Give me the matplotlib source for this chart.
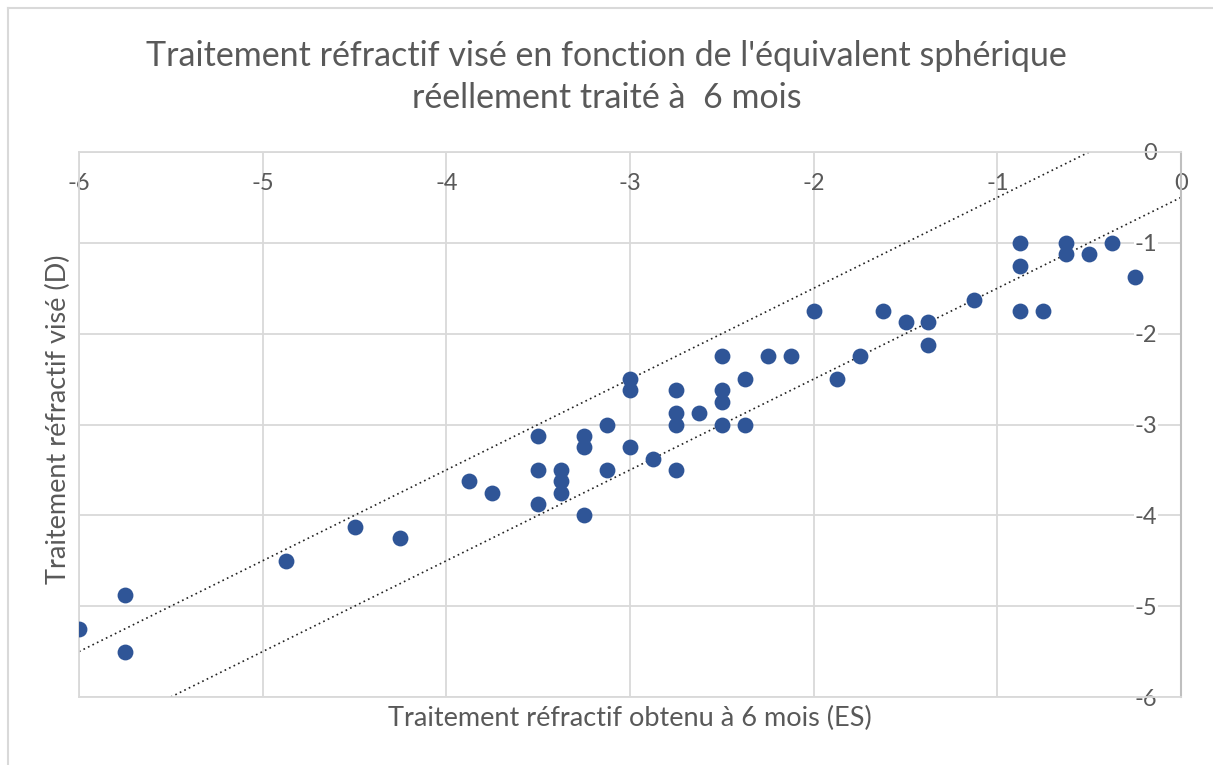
import matplotlib.pyplot as plt
from matplotlib.lines import Line2D

# refraction obtained at 6 months (ES) vs targeted treatment (D)
x_obtenu = [-6, -5.75, -5.75, -4.875, -4.5, -4.25, -3.875, -3.75,
            -3.5, -3.5, -3.5, -3.375, -3.375, -3.375, -3.25, -3.25, -3.25,
            -3.125, -3.125, -3, -3, -3, -2.875, -2.75, -2.75, -2.75, -2.75,
            -2.625, -2.5, -2.5, -2.5, -2.5, -2.375, -2.375, -2.25, -2.125,
            -2, -1.875, -1.75, -1.625, -1.5, -1.375, -1.375, -1.125,
            -0.875, -0.875, -0.875, -0.75, -0.625, -0.625, -0.5, -0.375, -0.25]
y_vise = [-5.25, -4.875, -5.5, -4.5, -4.125, -4.25, -3.625, -3.75,
          -3.125, -3.5, -3.875, -3.5, -3.625, -3.75, -3.125, -3.25, -4,
          -3, -3.5, -2.5, -2.625, -3.25, -3.375, -2.625, -2.875, -3, -3.5,
          -2.875, -2.25, -2.625, -2.75, -3, -2.5, -3, -2.25, -2.25,
          -1.75, -2.5, -2.25, -1.75, -1.875, -1.875, -2.125, -1.625,
          -1, -1.25, -1.75, -1.75, -1, -1.125, -1.125, -1, -1.375]

# +/- 0.5 D tolerance lines (y = x + offset)
line_offsets = [0.5, -0.5]

x_ticks = [-6, -5, -4, -3, -2, -1, 0]
y_ticks = [0, -1, -2, -3, -4, -5, -6]

plt.rcParams['font.family'] = ['Lato', 'DejaVu Sans']
text_color = '#595959'
grid_color = '#D9D9D9'

fig = plt.figure(figsize=(12.13, 7.65), dpi=100)
ax = fig.add_axes([79 / 1213, 1 - 697 / 765, (1181 - 79) / 1213, (697 - 152) / 765])

ax.scatter(x_obtenu, y_vise, s=130, color='#2F5597', zorder=3, linewidths=0)

for off in line_offsets:
    ax.axline((0, off), slope=1, color='#222222', linestyle=(0, (1, 2.0)),
              linewidth=1.2, zorder=2)

ax.set_xlim(-6, 0)
ax.set_ylim(-6, 0)
ax.set_xticks(x_ticks)
ax.set_yticks(y_ticks)

ax.grid(True, color=grid_color, linewidth=1.3, zorder=0)
ax.set_axisbelow(True)
for side in ['left', 'bottom', 'top']:
    ax.spines[side].set_color(grid_color)
    ax.spines[side].set_linewidth(1.3)
ax.spines['right'].set_color('#BFBFBF')
ax.spines['right'].set_linewidth(1.5)

# tick labels sit inside the plot, next to the axes crossing at 0
ax.xaxis.set_ticks_position('top')
ax.yaxis.set_ticks_position('right')
ax.tick_params(axis='x', length=0, pad=-22.5, colors=text_color)
ax.tick_params(axis='y', length=0, pad=-17, colors=text_color)
ax.set_xticklabels([str(v) for v in x_ticks], fontsize=17, va='center')
ax.set_yticklabels([str(v) for v in y_ticks], fontsize=17, ha='right',
                   bbox=dict(facecolor='white', edgecolor='none', pad=0.5))

fig.text(630 / 1213, 1 - 718 / 765, 'Traitement réfractif obtenu à 6 mois (ES)',
         ha='center', va='center', fontsize=19.5, color=text_color)
fig.text(58 / 1213, 1 - 419 / 765, 'Traitement réfractif visé (D)',
         ha='center', va='center', rotation=90, fontsize=19.5, color=text_color)
fig.text(0.5, 1 - 77 / 765,
         "Traitement réfractif visé en fonction de l'équivalent sphérique\nréellement traité à  6 mois",
         ha='center', va='center', fontsize=24.5, color=text_color, linespacing=1.38)

# chart area border (cropped on the right and bottom)
fig.add_artist(Line2D([8 / 1213, 1], [1 - 8 / 765, 1 - 8 / 765],
                      transform=fig.transFigure, color=grid_color, linewidth=1.5))
fig.add_artist(Line2D([8 / 1213, 8 / 1213], [0, 1 - 8 / 765],
                      transform=fig.transFigure, color=grid_color, linewidth=1.5))

fig.savefig('out.png', dpi=100)
